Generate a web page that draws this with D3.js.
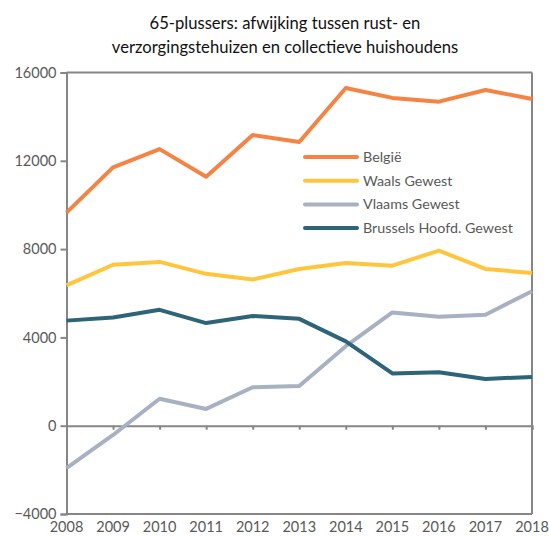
<!DOCTYPE html>
<html>
<head>
<meta charset="utf-8">
<script src="https://cdn.jsdelivr.net/npm/d3@7"></script>
<style>
  body { margin: 0; background: #fff; }
  text { font-family: Lato, "Open Sans", sans-serif; font-weight: 400; }
</style>
</head>
<body>
<div id="chart"></div>
<script>
// Chart data
const years = [2008, 2009, 2010, 2011, 2012, 2013, 2014, 2015, 2016, 2017, 2018];
const belgie = [9650, 11700, 12530, 11280, 13170, 12850, 15300, 14850, 14680, 15210, 14800];
const waals = [6360, 7290, 7420, 6880, 6620, 7100, 7370, 7250, 7930, 7100, 6920];
const vlaams = [-1920, -420, 1220, 760, 1740, 1800, 3600, 5130, 4940, 5030, 6090];
const brussels = [4760, 4900, 5250, 4650, 4970, 4840, 3820, 2370, 2420, 2120, 2210];
const seriesNames = ['België', 'Waals Gewest', 'Vlaams Gewest', 'Brussels Hoofd. Gewest'];
const seriesColors = ['#F58344', '#FFC63D', '#A7B1C1', '#2E6477'];
const yTicks = [-4000, 0, 4000, 8000, 12000, 16000];
const titleLines = ['65-plussers: afwijking tussen rust- en', 'verzorgingstehuizen en collectieve huishoudens'];

const seriesValues = [belgie, waals, vlaams, brussels];

const W = 549, H = 537;
const margin = {top: 72.5, right: 17, bottom: 23, left: 66.5};

const svg = d3.select('#chart').append('svg')
    .attr('width', W)
    .attr('height', H);

const x = d3.scalePoint()
    .domain(years)
    .range([margin.left, W - margin.right]);

const y = d3.scaleLinear()
    .domain([-4000, 16000])
    .range([H - margin.bottom, margin.top]);

const axisColor = '#868686';
const labelColor = '#595959';

// Title
svg.append('g').selectAll('text')
    .data(titleLines)
    .enter()
    .append('text')
    .attr('x', 285)
    .attr('y', (d, i) => 29 + i * 24)
    .attr('text-anchor', 'middle')
    .attr('fill', '#111')
    .style('font-size', '16.6px')
    .text(d => d);

// Frame: top, right and bottom borders
svg.append('line')
    .attr('x1', margin.left).attr('x2', W - margin.right)
    .attr('y1', y(16000)).attr('y2', y(16000))
    .attr('stroke', axisColor).attr('stroke-width', 2);
svg.append('line')
    .attr('x1', W - margin.right).attr('x2', W - margin.right)
    .attr('y1', y(16000)).attr('y2', y(-4000))
    .attr('stroke', axisColor).attr('stroke-width', 2);
svg.append('line')
    .attr('x1', margin.left).attr('x2', W - margin.right)
    .attr('y1', y(-4000)).attr('y2', y(-4000))
    .attr('stroke', axisColor).attr('stroke-width', 2);

// Y axis
const yAxis = svg.append('g')
    .attr('transform', `translate(${margin.left},0)`)
    .call(d3.axisLeft(y).tickValues(yTicks).tickSize(6).tickPadding(4).tickFormat(d3.format('d')));
yAxis.select('.domain').attr('stroke', axisColor).attr('stroke-width', 2);
yAxis.selectAll('.tick line').attr('stroke', axisColor).attr('stroke-width', 2);
yAxis.selectAll('.tick text')
    .attr('fill', labelColor)
    .style('font-size', '14.5px')
    .style('font-family', 'Lato, sans-serif');

// Zero line with ticks
const zeroAxis = svg.append('g')
    .attr('transform', `translate(0,${y(0)})`)
    .call(d3.axisBottom(x).tickSize(4).tickFormat(''));
zeroAxis.select('.domain').attr('stroke', axisColor).attr('stroke-width', 2);
zeroAxis.selectAll('.tick line').attr('stroke', axisColor).attr('stroke-width', 2);

// Year labels at the bottom
svg.append('g').selectAll('text')
    .data(years)
    .enter()
    .append('text')
    .attr('x', d => x(d))
    .attr('y', H - 5)
    .attr('text-anchor', 'middle')
    .attr('fill', labelColor)
    .style('font-size', '14.5px')
    .text(d => d);

// Lines
const line = d3.line()
    .x((d, i) => x(years[i]))
    .y(d => y(d));

svg.append('g').selectAll('path')
    .data(seriesValues)
    .enter()
    .append('path')
    .attr('d', d => line(d))
    .attr('fill', 'none')
    .attr('stroke', (d, i) => seriesColors[i])
    .attr('stroke-width', 4)
    .attr('stroke-linejoin', 'round');

// Legend
const legend = svg.append('g').attr('transform', 'translate(305,157)');
const rows = legend.selectAll('g')
    .data(seriesNames)
    .enter()
    .append('g')
    .attr('transform', (d, i) => `translate(0,${i * 23.7})`);
rows.append('line')
    .attr('x1', 0).attr('x2', 52)
    .attr('y1', 0).attr('y2', 0)
    .attr('stroke', (d, i) => seriesColors[i])
    .attr('stroke-width', 4)
    .attr('stroke-linecap', 'round');
rows.append('text')
    .attr('x', 58)
    .attr('y', 0)
    .attr('dy', '0.35em')
    .attr('fill', labelColor)
    .style('font-size', '14.3px')
    .text(d => d);
</script>
</body>
</html>
